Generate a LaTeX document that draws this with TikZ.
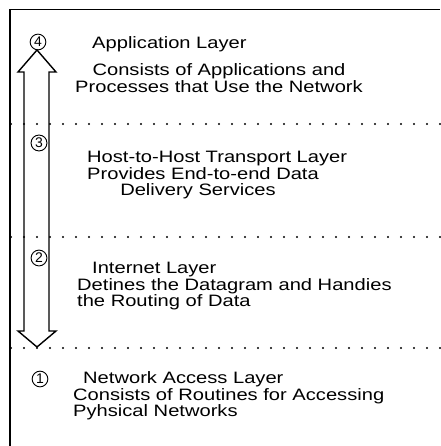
\documentclass[tikz,border=0pt]{standalone}
\usepackage{fontspec}
\setmainfont{Liberation Sans}
\usepackage{graphicx}
\usepackage{tikz}
\newcommand\widetext[1]{\scalebox{1.22}[1]{#1}}

\begin{document}
\begin{tikzpicture}[x=1pt,y=-1pt,
  layertext/.style={inner sep=0pt,text height=11.5pt,text depth=3pt,font=\fontsize{16.5}{16}\selectfont},
  layernum/.style={draw,circle,line width=0.9pt,inner sep=1.2pt,font=\fontsize{14}{14}\selectfont}]
\useasboundingbox (0,0) rectangle (440,446);
\draw[line width=1.3pt] (10,446)--(10,9.5)--(440,9.5);
\foreach \y in {124,237,348}
  \foreach \x in {11,24,...,440}
    \fill (\x,\y) circle (1.2pt);
\draw[line width=1.4pt,line join=miter] (37,50)--(56,72)--(49,72)--(49,331)--(56,331)--(37,347)--(18,331)--(24,331)--(24,72)--(18,72)--cycle;
\node[layernum] (n4) at (38,42) {4};
\node[layernum] (n3) at (39,143) {3};
\node[layernum] (n2) at (39,258) {2};
\node[layernum] (n1) at (40,379) {1};
\node[layertext,anchor=base west] (app) at (92,49) {\widetext{Application Layer}};
\node[layertext,anchor=base] (appa) at (219,76) {\widetext{Consists of Applications and}};
\node[layertext,anchor=base] (appb) at (219,93) {\widetext{Processes that Use the Network}};
\node[layertext,anchor=base west] (host) at (87,163) {\widetext{Host-to-Host Transport Layer}};
\node[layertext,anchor=base west] (hosta) at (87,180) {\widetext{Provides End-to-end Data}};
\node[layertext,anchor=base] (hostb) at (198,196) {\widetext{Delivery Services}};
\node[layertext,anchor=base west] (inet) at (92,273) {\widetext{Internet Layer}};
\node[layertext,anchor=base west] (ineta) at (77,290) {\widetext{Detines the Datagram and Handies}};
\node[layertext,anchor=base west] (inetb) at (77,306) {\widetext{the Routing of Data}};
\node[layertext,anchor=base west] (net) at (83,383) {\widetext{Network Access Layer}};
\node[layertext,anchor=base west] (neta) at (73,400) {\widetext{Consists of Routines for Accessing}};
\node[layertext,anchor=base west] (netb) at (73,416) {\widetext{Pyhsical Networks}};
\end{tikzpicture}
\end{document}
